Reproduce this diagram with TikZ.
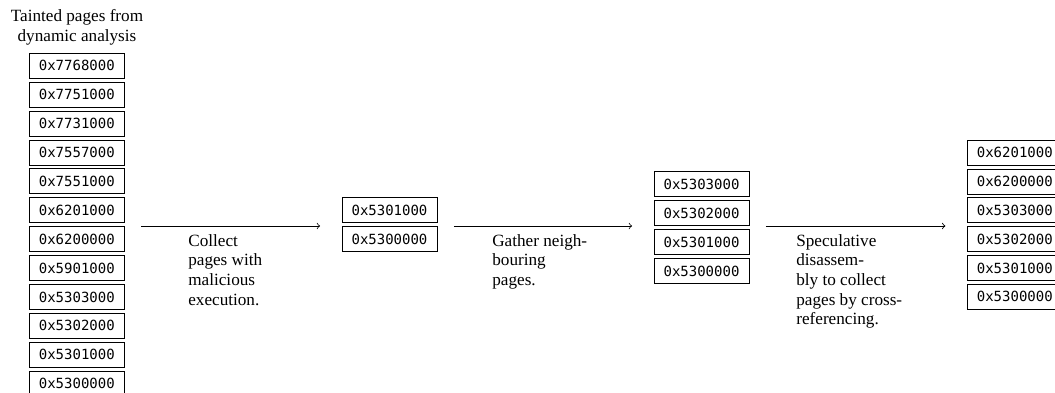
\documentclass[tikz,border=0pt]{standalone}
\usepackage{fontspec}
\setmainfont{Liberation Serif}
\setmonofont{DejaVu Sans Mono}
\usetikzlibrary{fit}
\tikzset{
  page/.style={draw, line width=0.5pt, minimum width=57pt, minimum height=15pt,
    inner sep=0pt, font=\fontsize{8.4}{10}\selectfont\ttfamily},
  stage/.style={anchor=north west, align=left, inner sep=0pt,
    font=\fontsize{10.3}{11.8}\selectfont},
  flow/.style={->, line width=0.5pt, shorten <=9.6pt, shorten >=12.7pt},
  column/.style={inner sep=0pt, draw=none}
}
\begin{document}
\begin{tikzpicture}[x=0.6pt, y=-0.6pt]
\useasboundingbox (0,0) rectangle (1055,393);
\clip (0,0) rectangle (1055,393);

% heading of the first column
\node[stage, anchor=north, align=center] (title) at (77,9.3)
  {Tainted pages from\\dynamic analysis};

% column A: all tainted pages
\foreach \t [count=\i from 0] in {0x7768000,0x7751000,0x7731000,0x7557000,
    0x7551000,0x6201000,0x6200000,0x5901000,0x5303000,0x5302000,0x5301000,0x5300000}
  \node[page] (a\i) at (76.8, 65.8+28.9*\i) {\t};
\node[column, fit=(a0)(a11)] (colA) {};

% column B: pages with malicious execution
\foreach \t [count=\i from 0] in {0x5301000,0x5300000}
  \node[page] (b\i) at (389.5, 210.05+28.9*\i) {\t};
\node[column, fit=(b0)(b1)] (colB) {};

% column C: with neighbouring pages
\foreach \t [count=\i from 0] in {0x5303000,0x5302000,0x5301000,0x5300000}
  \node[page] (c\i) at (701.5, 184.25+28.9*\i) {\t};
\node[column, fit=(c0)(c3)] (colC) {};

% column D: after cross-referencing
\foreach \t [count=\i from 0] in {0x6201000,0x6200000,0x5303000,0x5302000,0x5301000,0x5300000}
  \node[page] (d\i) at (1014.8, 152.6+28.85*\i) {\t};
\node[column, fit=(d0)(d5)] (colD) {};

% level of the arrows
\coordinate (lvl) at (0,226);

\draw[flow] (colA.east |- lvl) -- (colB.west |- lvl);
\draw[flow] (colB.east |- lvl) -- (colC.west |- lvl);
\draw[flow] (colC.east |- lvl) -- (colD.west |- lvl);

\node[stage] (s1) at (188,234) {Collect\\pages with\\malicious\\execution.};
\node[stage] (s2) at (492,234) {Gather neigh-\\bouring\\pages.};
\node[stage] (s3) at (796,234) {Speculative\\disassem-\\bly to collect\\pages by cross-\\referencing.};
\end{tikzpicture}
\end{document}
